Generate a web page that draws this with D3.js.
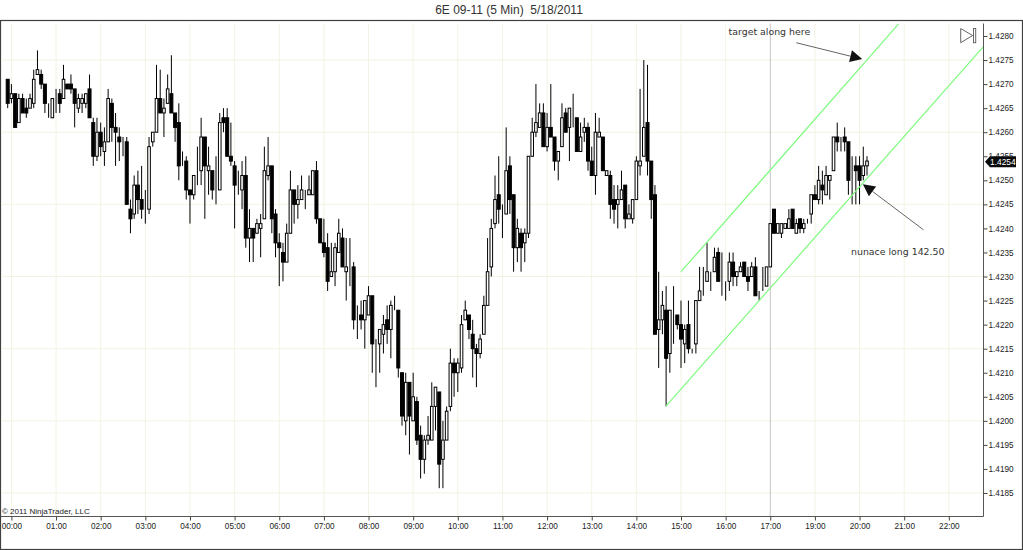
<!DOCTYPE html>
<html>
<head>
<meta charset="utf-8">
<script src="https://cdn.jsdelivr.net/npm/d3@7"></script>
<style>
html,body{margin:0;padding:0;background:#fff;overflow:hidden}
svg{display:block}
text{font-family:"Liberation Sans",Arial,sans-serif}
</style>
</head>
<body>
<svg id="chart" width="1023" height="550"></svg>
<script>
// Prices are stored as ten-thousandths above 1 (4271 = 1.4271)
const opens = [4271,4267,4268,4262,4267,4265,4265,4266,4272,4272,4270,4264,4263,4267,4268,4267,4270,4270,4269,4265,4266,4266,4269,4262,4255,4260,4256,4258,4266,4261,4259,4258,4258,4244,4243,4249,4246,4244,4244,4258,4260,4267,4264,4266,4268,4264,4262,4254,4254,4248,4247,4252,4252,4259,4252,4252,4248,4248,4263,4263,4255,4253,4249,4248,4251,4238,4240,4239,4240,4242,4251,4253,4243,4237,4235,4233,4239,4248,4245,4246,4247,4247,4247,4252,4242,4237,4236,4230,4231,4235,4238,4231,4232,4232,4222,4222,4221,4222,4226,4217,4216,4218,4221,4219,4223,4223,4210,4200,4208,4200,4204,4197,4192,4196,4196,4203,4206,4192,4196,4203,4212,4210,4211,4221,4222,4218,4215,4214,4218,4224,4232,4241,4247,4244,4243,4253,4247,4236,4239,4237,4239,4255,4260,4261,4264,4257,4261,4259,4254,4257,4264,4261,4264,4263,4256,4260,4261,4254,4251,4259,4259,4251,4251,4246,4245,4246,4249,4242,4242,4246,4253,4255,4262,4254,4247,4219,4221,4223,4214,4222,4222,4220,4216,4220,4215,4216,4225,4228,4229,4231,4231,4235,4229,4229,4229,4233,4230,4231,4233,4230,4230,4232,4227,4227,4228,4232,4244,4239,4239,4240,4240,4244,4239,4242,4240,4242,4243,4247,4246,4249,4247,4250,4252,4259,4258,4259,4258,4253,4253,4253,4251,4253];
const highs = [4271,4270,4268,4268,4268,4267,4268,4273,4277,4273,4270,4266,4267,4269,4269,4274,4270,4272,4269,4268,4268,4268,4272,4263,4263,4262,4261,4269,4267,4264,4261,4259,4259,4246,4251,4252,4253,4248,4259,4260,4274,4273,4267,4272,4276,4264,4266,4256,4255,4248,4251,4257,4263,4259,4257,4252,4255,4264,4265,4265,4262,4254,4252,4254,4255,4244,4240,4242,4243,4257,4259,4253,4244,4239,4237,4241,4252,4248,4249,4251,4248,4251,4252,4254,4242,4242,4239,4237,4237,4242,4240,4238,4238,4233,4224,4225,4225,4228,4226,4217,4219,4222,4224,4225,4226,4223,4210,4210,4208,4210,4205,4199,4197,4201,4208,4207,4206,4200,4203,4215,4213,4213,4222,4225,4222,4221,4216,4218,4226,4238,4242,4251,4255,4245,4261,4255,4247,4242,4240,4240,4255,4263,4270,4266,4266,4264,4270,4259,4256,4266,4265,4265,4268,4263,4262,4263,4262,4257,4264,4263,4259,4252,4252,4249,4249,4252,4249,4245,4246,4255,4269,4275,4274,4254,4249,4231,4227,4228,4223,4228,4222,4225,4220,4225,4215,4225,4232,4232,4237,4231,4236,4236,4235,4229,4235,4235,4231,4233,4233,4232,4233,4234,4227,4232,4232,4241,4244,4241,4241,4241,4244,4244,4242,4242,4242,4242,4247,4249,4253,4252,4253,4251,4259,4262,4259,4261,4258,4255,4255,4255,4257,4255];
const lows = [4265,4266,4261,4262,4264,4263,4265,4265,4272,4269,4264,4263,4263,4264,4264,4267,4269,4268,4261,4264,4264,4265,4263,4253,4254,4255,4253,4258,4258,4253,4254,4255,4245,4239,4242,4243,4242,4241,4243,4257,4260,4264,4259,4266,4264,4258,4250,4253,4246,4241,4246,4249,4249,4242,4247,4246,4245,4248,4260,4255,4253,4240,4247,4244,4236,4233,4233,4239,4234,4242,4250,4239,4234,4228,4229,4233,4239,4241,4242,4246,4244,4247,4247,4241,4237,4234,4227,4230,4228,4235,4232,4225,4228,4219,4217,4219,4215,4222,4210,4207,4210,4214,4216,4213,4223,4209,4199,4197,4193,4200,4195,4188,4189,4195,4196,4198,4186,4186,4196,4202,4205,4206,4210,4221,4217,4209,4207,4213,4218,4224,4230,4240,4241,4238,4243,4243,4231,4233,4231,4233,4238,4255,4259,4261,4257,4256,4259,4252,4250,4257,4260,4254,4261,4256,4256,4258,4252,4251,4247,4259,4252,4251,4242,4241,4240,4246,4240,4242,4241,4246,4251,4255,4251,4242,4218,4211,4218,4203,4210,4216,4219,4211,4212,4214,4214,4214,4225,4226,4229,4227,4231,4229,4226,4225,4227,4228,4228,4231,4230,4227,4230,4226,4225,4227,4228,4232,4239,4239,4238,4240,4240,4240,4239,4239,4239,4241,4241,4246,4245,4245,4247,4246,4252,4256,4256,4256,4247,4245,4245,4245,4250,4251];
const closes = [4266,4268,4261,4267,4264,4264,4267,4271,4273,4270,4266,4264,4267,4267,4266,4271,4269,4269,4266,4267,4267,4268,4263,4255,4260,4257,4258,4267,4261,4260,4258,4258,4245,4242,4249,4246,4244,4244,4257,4260,4267,4264,4265,4269,4264,4261,4253,4254,4248,4247,4251,4252,4259,4253,4253,4248,4248,4262,4262,4255,4254,4249,4249,4251,4238,4240,4238,4241,4241,4252,4253,4242,4237,4236,4233,4239,4248,4245,4246,4248,4247,4248,4252,4242,4237,4235,4229,4231,4236,4239,4232,4232,4232,4221,4222,4221,4225,4226,4216,4217,4219,4220,4219,4224,4223,4211,4201,4208,4201,4205,4196,4192,4196,4197,4203,4207,4191,4196,4202,4212,4210,4212,4220,4223,4219,4215,4214,4217,4224,4231,4240,4246,4244,4244,4252,4246,4236,4240,4236,4239,4255,4260,4262,4264,4257,4261,4259,4254,4256,4263,4260,4265,4264,4256,4259,4261,4254,4251,4260,4260,4252,4252,4245,4244,4246,4248,4242,4243,4246,4254,4254,4261,4254,4246,4218,4221,4224,4213,4223,4222,4220,4217,4219,4215,4215,4225,4227,4228,4231,4231,4234,4229,4229,4229,4233,4230,4231,4232,4230,4229,4232,4226,4227,4227,4232,4241,4239,4241,4241,4241,4242,4240,4241,4240,4241,4242,4247,4246,4250,4248,4251,4251,4259,4258,4258,4258,4250,4253,4252,4250,4253,4254];

// Price-axis ticks, every five pips; grid on every third one
const priceTicks = [4185,4190,4195,4200,4205,4210,4215,4220,4225,4230,4235,4240,4245,4250,4255,4260,4265,4270,4275,4280];
const gridPrices = [4185,4200,4215,4230,4245,4260,4275];
// Time labels and the bar index where each one falls (no 18:00 session)
const timeLabels = ["00:00","01:00","02:00","03:00","04:00","05:00","06:00","07:00","08:00","09:00","10:00","11:00","12:00","13:00","14:00","15:00","16:00","17:00","19:00","20:00","21:00","22:00"];
const timeBars = [1,13,25,37,49,61,73,85,97,109,121,133,145,157,169,181,193,205,217,229,241,253];
const lastPrice = 4254;
const sessionBreakBar = 205;
// Drawn channel lines, [bar, price] pairs
const lowerChannel = [[177,4203.1],[262.3,4277.8]];
const upperChannel = [[181,4231],[239.5,4282.5]];
// Annotations, [bar, price] pairs
const targetArrow = [[212,4278.6],[229.7,4275.2]];
const nuanceArrow = [[246.2,4239.7],[229.9,4249.2]];
const notes = [
  {text:"target along here", at:[193.8,4280.8]},
  {text:"nunace long 142.50", at:[226.7,4235.1]}
];

const svg = d3.select("#chart");
const frame = {left:0.5, top:20.5, right:1022.5, bottom:549.5, axisX:983.5, axisY:516.5};

const x = d3.scaleLinear().domain([0,231]).range([7.7,867]);
const y = d3.scaleLinear().domain([4185,4280]).range([493,36]);
const fmt = d => (1 + d/10000).toFixed(4);

const defs = svg.append("defs");
defs.append("filter").attr("id","soft").attr("x","-1%").attr("y","-1%").attr("width","102%").attr("height","102%")
  .append("feGaussianBlur").attr("stdDeviation",0.28);

// Title and outer frame
svg.append("text").attr("x",509).attr("y",13.5).attr("text-anchor","middle")
  .attr("font-size",12).attr("fill","#333")
  .style("white-space","pre").text("6E 09-11 (5 Min)  5/18/2011");
svg.append("rect").attr("x",frame.left).attr("y",frame.top)
  .attr("width",frame.right-frame.left).attr("height",frame.bottom-frame.top)
  .attr("fill","#fff").attr("stroke","#404040").attr("stroke-width",1.2);

// Grid
const grid = svg.append("g").attr("stroke","#f3f3e4").attr("stroke-width",1);
grid.selectAll("line.h").data(gridPrices).join("line").attr("class","h")
  .attr("x1",1).attr("x2",frame.axisX)
  .attr("y1",d=>y(d)).attr("y2",d=>y(d));
grid.selectAll("line.v").data(timeBars).join("line").attr("class","v")
  .attr("x1",d=>x(d)).attr("x2",d=>x(d))
  .attr("y1",frame.top+3).attr("y2",frame.axisY)
  .attr("stroke",d=>d===sessionBreakBar?"#c4c4c4":null);

// Candles
const bars = d3.range(opens.length).map(i=>({i,o:opens[i],h:highs[i],l:lows[i],c:closes[i]}));
const candles = svg.append("g").attr("filter","url(#soft)");
candles.selectAll("line").data(bars).join("line")
  .attr("x1",d=>x(d.i)).attr("x2",d=>x(d.i))
  .attr("y1",d=>y(d.h)).attr("y2",d=>y(d.l))
  .attr("stroke","#000").attr("stroke-width",1);
candles.selectAll("rect").data(bars).join("rect")
  .attr("x",d=>x(d.i)-(d.c<d.o?1.5:1.3)).attr("width",d=>d.c<d.o?3:2.6)
  .attr("y",d=>y(Math.max(d.o,d.c)))
  .attr("height",d=>Math.abs(y(d.o)-y(d.c)))
  .attr("fill",d=>d.c<d.o?"#000":"#fff")
  .attr("stroke","#000").attr("stroke-width",1);

// Channel lines
const toXY = d3.line().x(d=>x(d[0])).y(d=>y(d[1]));
svg.selectAll("path.channel").data([lowerChannel,upperChannel]).join("path")
  .attr("class","channel").attr("d",toXY).attr("fill","none")
  .attr("stroke","#7dfb7d").attr("stroke-width",1.2);

// Arrows
function arrow(pts){
  const [a,b] = pts.map(p=>[x(p[0]),y(p[1])]);
  const ang = Math.atan2(b[1]-a[1],b[0]-a[0]);
  const len = 12, half = 6;
  const bx = b[0]-len*Math.cos(ang), by = b[1]-len*Math.sin(ang);
  svg.append("line").attr("x1",a[0]).attr("y1",a[1]).attr("x2",bx).attr("y2",by)
    .attr("stroke","#666").attr("stroke-width",1);
  svg.append("polygon").attr("fill","#111").attr("points",[
    b,[bx+half*Math.sin(ang),by-half*Math.cos(ang)],[bx-half*Math.sin(ang),by+half*Math.cos(ang)]
  ].map(p=>p.join(",")).join(" "));
}
arrow(targetArrow);
arrow(nuanceArrow);
svg.selectAll("text.note").data(notes).join("text").attr("class","note")
  .attr("x",d=>x(d.at[0])).attr("y",d=>y(d.at[1])).attr("dy","0.35em")
  .attr("font-size",9.4).attr("fill","#333").style("font-family",'"DejaVu Sans",sans-serif')
  .text(d=>d.text);

// Axes
const yAxis = d3.axisRight(y).tickValues(priceTicks).tickFormat(fmt).tickSize(4).tickPadding(1);
const yG = svg.append("g").attr("transform",`translate(${frame.axisX},0)`).call(yAxis);
yG.select(".domain").attr("d",`M0,${frame.top+3}V${frame.axisY}`).attr("stroke","#555");
yG.selectAll("line").attr("stroke","#444");
yG.selectAll("text").attr("font-size",8.2).attr("fill","#222").style("font-family",'"Liberation Sans",sans-serif');

const xAxis = d3.axisBottom(x).tickValues(timeBars).tickFormat((d,i)=>timeLabels[i]).tickSize(4).tickPadding(3);
const xG = svg.append("g").attr("transform",`translate(0,${frame.axisY})`).call(xAxis);
xG.select(".domain").attr("d",`M1,0H${frame.axisX}`).attr("stroke","#555");
xG.selectAll("line").attr("stroke","#444");
xG.selectAll("text").attr("font-size",8.2).attr("fill","#222").style("font-family",'"Liberation Sans",sans-serif');

// Copyright
svg.append("text").attr("x",2).attr("y",514).attr("font-size",8).attr("fill","#222").text("© 2011 NinjaTrader, LLC");

// Last-price flag
const py = y(lastPrice)+0.7, px = frame.axisX+1.5;
svg.append("polygon").attr("fill","#0a0a0a").attr("points",
  [[px,py],[px+5,py-5.5],[1016,py-5.5],[1016,py+5.5],[px+5,py+5.5]].map(p=>p.join(",")).join(" "));
svg.append("text").attr("x",990).attr("y",py).attr("dy","0.35em").attr("font-size",8.4)
  .attr("fill","#fff").text(fmt(lastPrice));

// Scroll-to-end icon
svg.append("polygon").attr("points","960.7,28.5 960.7,42.7 972.6,35.5")
  .attr("fill","#fff").attr("stroke","#666").attr("stroke-width",1);
svg.append("rect").attr("x",973.5).attr("y",28.5).attr("width",2.2).attr("height",14.2)
  .attr("fill","#fff").attr("stroke","#666").attr("stroke-width",1);
</script>
</body>
</html>
